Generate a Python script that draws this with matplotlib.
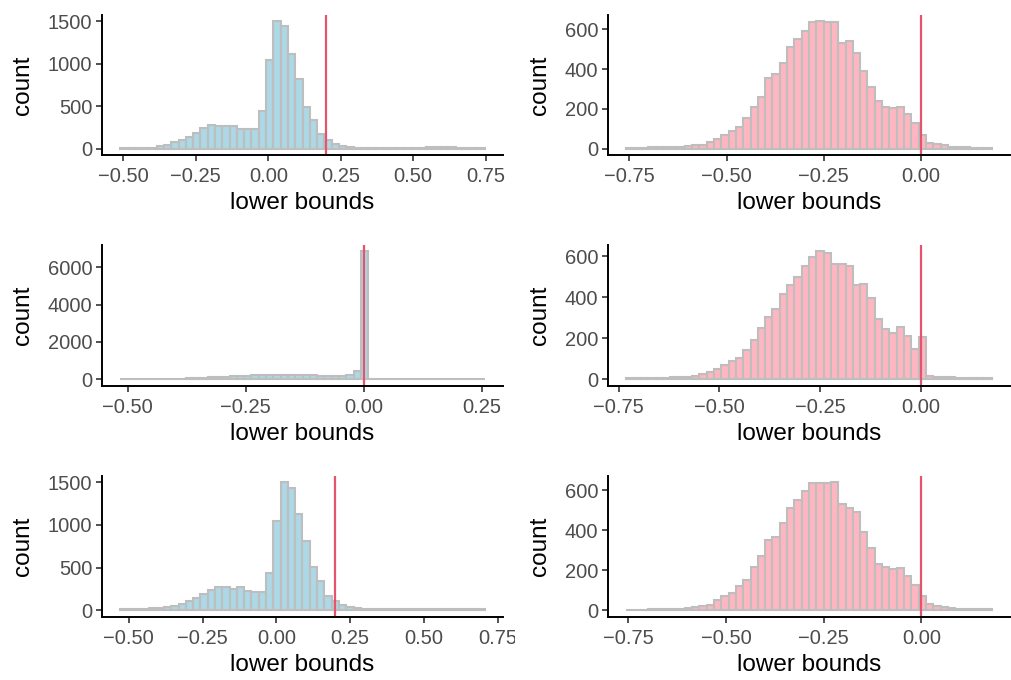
import matplotlib
matplotlib.use("Agg")
import matplotlib.pyplot as plt
from matplotlib.patches import Rectangle
import numpy as np

plt.rcParams["font.family"] = ["Liberation Sans", "DejaVu Sans"]

# histogram counts (50 bins each)
counts_1 = [5, 6, 7, 8, 12, 27, 43, 74, 105, 133, 187, 238, 281, 265, 262, 270, 226, 226, 226, 445,
            1050, 1500, 1440, 1120, 820, 495, 340, 172, 105, 50, 30, 15, 10, 8, 7, 6, 6, 5, 5, 5,
            6, 12, 16, 18, 16, 14, 10, 7, 6, 5]
counts_2 = [3, 3, 5, 7, 8, 7, 8, 10, 13, 18, 20, 32, 47, 67, 87, 110, 155, 207, 262, 353,
            374, 433, 510, 551, 593, 635, 640, 635, 638, 530, 542, 483, 389, 309, 242, 211, 205, 208, 174, 129,
            67, 28, 22, 18, 10, 7, 7, 5, 3, 3]
counts_3 = [10, 10, 10, 10, 10, 12, 15, 20, 25, 35, 45, 60, 107, 125, 140, 145, 160, 178, 195, 200,
            210, 205, 205, 205, 205, 205, 195, 190, 185, 180, 190, 210, 440, 6850, 15, 15, 14, 14, 13, 13,
            12, 12, 12, 11, 11, 11, 10, 10, 10, 10]
counts_4 = [3, 3, 5, 5, 7, 7, 8, 10, 11, 16, 23, 33, 47, 67, 86, 104, 140, 189, 251, 302,
            341, 414, 460, 497, 554, 598, 623, 615, 561, 560, 554, 460, 465, 398, 293, 243, 223, 256, 210, 147,
            205, 16, 11, 10, 8, 7, 5, 5, 3, 3]
counts_5 = [8, 12, 12, 16, 20, 23, 35, 47, 74, 109, 140, 187, 234, 269, 269, 250, 269, 230, 211, 218,
            437, 1045, 1500, 1431, 1123, 815, 507, 347, 168, 105, 55, 31, 20, 16, 12, 10, 9, 8, 8, 10,
            14, 16, 16, 15, 13, 12, 10, 9, 8, 8]
counts_6 = [3, 3, 3, 5, 5, 7, 7, 8, 12, 17, 23, 27, 53, 72, 87, 120, 152, 217, 270, 350,
            367, 438, 510, 553, 597, 635, 638, 637, 640, 533, 512, 492, 390, 312, 233, 217, 205, 212, 173, 128,
            70, 33, 23, 18, 12, 8, 7, 7, 5, 5]

# bin ranges (left edge of first bin, right edge of last bin)
range_1 = (-0.511, 0.747)
range_2 = (-0.758, 0.182)
range_3 = (-0.516, 0.256)
range_4 = (-0.731, 0.175)
range_5 = (-0.529, 0.706)
range_6 = (-0.755, 0.180)

# reference line positions
vline = [0.20, 0.00, 0.00, 0.00, 0.20, 0.00]

xticks_left = [[-0.50, -0.25, 0.00, 0.25, 0.50, 0.75],
               [-0.50, -0.25, 0.00, 0.25],
               [-0.50, -0.25, 0.00, 0.25, 0.50, 0.75]]
xticks_right = [-0.75, -0.50, -0.25, 0.00]
yticks = [[0, 500, 1000, 1500], [0, 200, 400, 600],
          [0, 2000, 4000, 6000], [0, 200, 400, 600],
          [0, 500, 1000, 1500], [0, 200, 400, 600]]

panels = [(counts_1, range_1), (counts_2, range_2), (counts_3, range_3),
          (counts_4, range_4), (counts_5, range_5), (counts_6, range_6)]
xticks_all = [xticks_left[0], xticks_right, xticks_left[1], xticks_right,
              xticks_left[2], xticks_right]

W, H = 1011, 680
fig = plt.figure(figsize=(W / 100, H / 100), dpi=100)

col_x = [(102, 503), (608, 1010)]
row_y = [(15, 155), (245, 385.5), (476, 616.5)]

for k, (cnts, (lo, hi)) in enumerate(panels):
    r, c = divmod(k, 2)
    x0, x1 = col_x[c]
    yt, yb = row_y[r]
    ax = fig.add_axes([x0 / W, 1 - yb / H, (x1 - x0) / W, (yb - yt) / H])
    cnts = np.array(cnts)
    edges = np.linspace(lo, hi, len(cnts) + 1)
    fill = "#ADD8E6" if c == 0 else "#FFB6C1"
    ax.bar(edges[:-1], cnts, width=np.diff(edges), align="edge",
           color=fill, edgecolor="#BEBEBE", linewidth=1.5)
    ax.axvline(vline[k], color="#E5536D", linewidth=1.6)
    span = hi - lo
    ax.set_xlim(lo - 0.05 * span, hi + 0.05 * span)
    top = cnts.max()
    ax.set_ylim(-0.05 * top, 1.05 * top)
    ax.set_xticks(xticks_all[k])
    ax.set_xticklabels([f"{v:.2f}".replace("-", "\u2212") for v in xticks_all[k]])
    ax.set_yticks(yticks[k])
    for s in ["top", "right"]:
        ax.spines[s].set_visible(False)
    for s in ["left", "bottom"]:
        ax.spines[s].set_linewidth(1.4)
        ax.spines[s].set_color("black")
    ax.tick_params(length=4.5, width=1.2, color="#333333", labelsize=14.5,
                   labelcolor="#4D4D4D")
    ax.tick_params(axis="x", pad=4.5)
    ax.tick_params(axis="y", pad=2.5)
    ax.set_xlabel("lower bounds", fontsize=17.5, labelpad=4)
    ax.set_ylabel("count", fontsize=17.5, labelpad=10)

# the last tick label of the bottom-left panel is cut off at its cell edge
fig.add_artist(Rectangle((515 / W, 0), 40 / W, 64 / H, transform=fig.transFigure,
                         facecolor="white", edgecolor="none", zorder=10))

fig.savefig("out.png", dpi=100)
